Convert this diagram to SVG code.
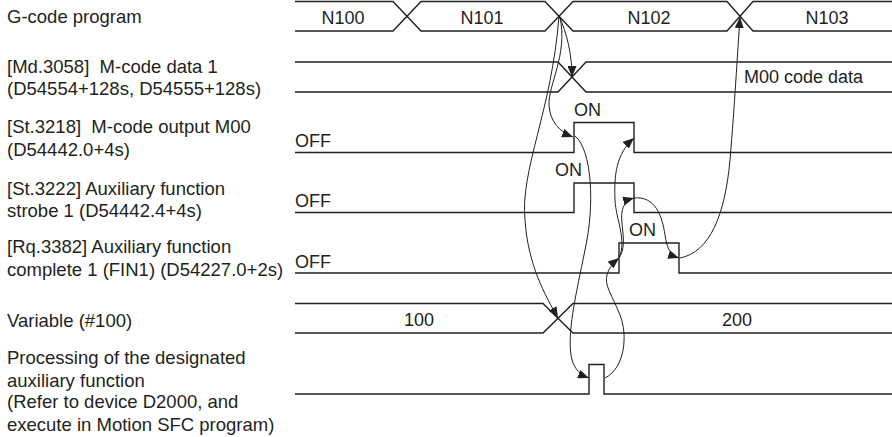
<svg xmlns="http://www.w3.org/2000/svg" width="892" height="437" viewBox="0 0 892 437">
<defs>
<marker id="ah" markerUnits="userSpaceOnUse" markerWidth="11" markerHeight="9" refX="11" refY="4.5" orient="auto">
<path d="M0,0 L11,4.5 L0,9 z" fill="#231f20"/>
</marker>
<style>
text{font-family:"Liberation Sans",Arial,sans-serif;fill:#231f20;}
.lbl{font-size:18.5px;}
.val{font-size:18px;}
.mid{text-anchor:middle;}
.sig{fill:none;stroke:#231f20;stroke-width:1.4;stroke-linejoin:miter;}
.arr{fill:none;stroke:#231f20;stroke-width:1;marker-end:url(#ah);}
</style>
</defs>
<rect width="892" height="437" fill="#ffffff"/>

<g id="gcode">
<text class="lbl" x="7" y="23">G-code program</text>
<path class="sig" d="M295,1.5 H393 L421,31 H545 L573,1.5 H727 L753,31 H892"/>
<path class="sig" d="M295,31 H393 L421,1.5 H545 L573,31 H727 L753,1.5 H892"/>
<text class="val mid" x="343" y="24">N100</text>
<text class="val mid" x="482" y="24">N101</text>
<text class="val mid" x="649" y="24">N102</text>
<text class="val mid" x="827" y="24">N103</text>
</g>

<g id="mcode-data">
<text class="lbl" x="7" y="73" xml:space="preserve">[Md.3058]  M-code data 1</text>
<text class="lbl" x="7" y="95">(D54554+128s, D54555+128s)</text>
<path class="sig" d="M295,62 H558 L586,92 H892"/>
<path class="sig" d="M295,92 H558 L586,62 H892"/>
<text class="val" x="744" y="83">M00 code data</text>
</g>

<g id="mcode-output">
<text class="lbl" x="7" y="133" xml:space="preserve">[St.3218]  M-code output M00</text>
<text class="lbl" x="7" y="156">(D54442.0+4s)</text>
<path class="sig" d="M295,152.5 H574 V122.5 H634 V152.5 H892"/>
<text class="val" x="295" y="147">OFF</text>
<text class="val" x="574" y="116">ON</text>
</g>

<g id="strobe">
<text class="lbl" x="7" y="195">[St.3222] Auxiliary function</text>
<text class="lbl" x="7" y="217">strobe 1 (D54442.4+4s)</text>
<path class="sig" d="M295,212.5 H574 V183 H634 V212.5 H892"/>
<text class="val" x="295" y="207">OFF</text>
<text class="val" x="555" y="176">ON</text>
</g>

<g id="fin1">
<text class="lbl" x="7" y="253">[Rq.3382] Auxiliary function</text>
<text class="lbl" x="7" y="276">complete 1 (FIN1) (D54227.0+2s)</text>
<path class="sig" d="M295,273 H619 V243 H679 V273 H892"/>
<text class="val" x="295" y="268">OFF</text>
<text class="val" x="629" y="236">ON</text>
</g>

<g id="variable">
<text class="lbl" x="7" y="327">Variable (#100)</text>
<path class="sig" d="M295,303.5 H543 L573,333 H892"/>
<path class="sig" d="M295,333 H543 L573,303.5 H892"/>
<text class="val mid" x="419" y="326">100</text>
<text class="val mid" x="737" y="326">200</text>
</g>

<g id="processing">
<text class="lbl" x="7" y="364">Processing of the designated</text>
<text class="lbl" x="7" y="387">auxiliary function</text>
<text class="lbl" x="7" y="408">(Refer to device D2000, and</text>
<text class="lbl" x="7" y="431">execute in Motion SFC program)</text>
<path class="sig" d="M295,394 H589 V364.5 H604 V394 H892"/>
</g>

<g id="connectors">
<path class="arr" d="M559,16 C567,33 572,55 572,77"/>
<path class="arr" d="M560,17 C568,55 548,85 549,105 C550,122 560,132 573,137"/>
<path class="arr" d="M559,16 C552,110 520,170 525,220 C528,265 545,295 558,318"/>
<path class="arr" d="M575,136 C592,150 595,205 585,250 C576,295 566,335 572,360 C575,370 581,375 589,378"/>
<path class="arr" d="M605,378 C625,368 628,335 620,315 C612,295 604,285 607,275 C609,268 613,263 619,258"/>
<path class="arr" d="M619,258 C627,240 616,220 615,200 C614,175 616,154 634,138"/>
<path class="arr" d="M619,258 C628,245 620,225 622,212 C623,205 627,200 634,198"/>
<path class="arr" d="M634,198 C655,196 662,215 665,235 C667,248 670,255 679,258"/>
<path class="arr" d="M680,258 C710,252 725,215 730,160 C735,100 737,60 740,17"/>
</g>
</svg>
